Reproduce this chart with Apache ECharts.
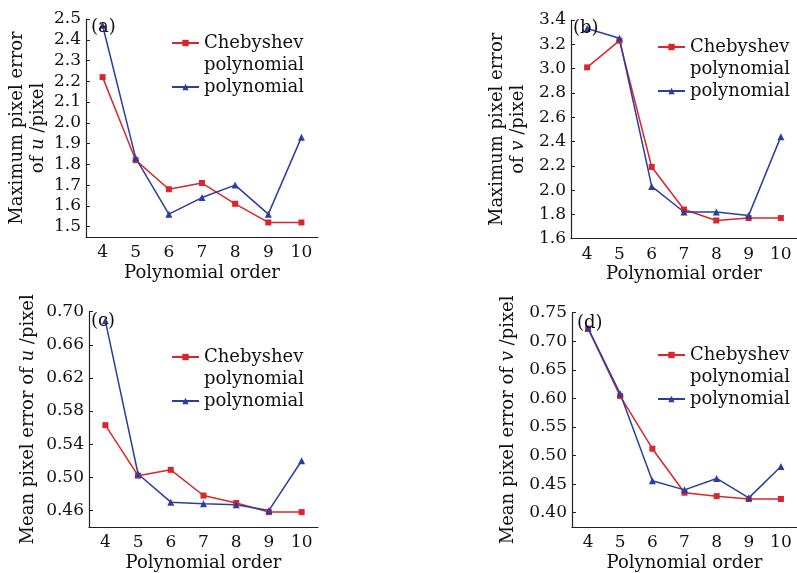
<!DOCTYPE html>
<html>
<head>
<meta charset="utf-8">
<script src="https://cdn.jsdelivr.net/npm/echarts@6/dist/echarts.min.js"></script>
<style>
  html, body { margin: 0; padding: 0; background: #fff; }
  #chart { width: 797px; height: 573px; }
</style>
</head>
<body>
<div id="chart"></div>
<script>
const orders = ['4', '5', '6', '7', '8', '9', '10']
const chebName = 'Chebyshev polynomial'
const polyName = 'polynomial'

// (a) max error u, (b) max error v, (c) mean error u, (d) mean error v
const maxUCheb = [2.22, 1.82, 1.68, 1.71, 1.61, 1.52, 1.52]
const maxUPoly = [2.47, 1.83, 1.56, 1.64, 1.70, 1.56, 1.93]
const maxVCheb = [3.01, 3.23, 2.19, 1.84, 1.75, 1.77, 1.77]
const maxVPoly = [3.33, 3.25, 2.03, 1.82, 1.82, 1.79, 2.44]
const meanUCheb = [0.563, 0.502, 0.509, 0.478, 0.469, 0.458, 0.458]
const meanUPoly = [0.689, 0.504, 0.470, 0.468, 0.467, 0.460, 0.520]
const meanVCheb = [0.722, 0.604, 0.512, 0.435, 0.429, 0.424, 0.424]
const meanVPoly = [0.723, 0.608, 0.456, 0.440, 0.460, 0.426, 0.481]

const ticksA = [1.5, 1.6, 1.7, 1.8, 1.9, 2.0, 2.1, 2.2, 2.3, 2.4, 2.5]
const ticksB = [1.6, 1.8, 2.0, 2.2, 2.4, 2.6, 2.8, 3.0, 3.2, 3.4]
const ticksC = [0.46, 0.50, 0.54, 0.58, 0.62, 0.66, 0.70]
const ticksD = [0.40, 0.45, 0.50, 0.55, 0.60, 0.65, 0.70, 0.75]

const font = 'DejaVu Serif'
const red = '#d9262c'
const blue = '#2b3d9e'
const axisColor = '#222'

const panels = [
  { tag: '(a)', grid: { left: 86, top: 19, width: 232, height: 218 }, min: 1.45, max: 2.5, ticks: ticksA, dec: 1,
    name: '{t|Maximum pixel error}\n{t|of }{i|u}{t| /pixel}', gap: 37, cheb: maxUCheb, poly: maxUPoly,
    tagPos: [91, 18], legend: [171, 10] },
  { tag: '(b)', grid: { left: 571, top: 20, width: 228, height: 218.7 }, min: 1.6, max: 3.4, ticks: ticksB, dec: 1,
    name: '{t|Maximum pixel error}\n{t|of }{i|v}{t| /pixel}', gap: 42, cheb: maxVCheb, poly: maxVPoly,
    tagPos: [573, 19], legend: [657, 14] },
  { tag: '(c)', grid: { left: 89, top: 311.7, width: 229, height: 218.3 }, min: 0.44, max: 0.70, ticks: ticksC, dec: 2,
    name: '{t|Mean pixel error of }{i|u}{t| /pixel}', gap: 50, cheb: meanUCheb, poly: meanUPoly,
    tagPos: [91, 312], legend: [171, 324] },
  { tag: '(d)', grid: { left: 572, top: 312.7, width: 228, height: 217.3 }, min: 0.375, max: 0.75, ticks: ticksD, dec: 2,
    name: '{t|Mean pixel error of }{i|v}{t| /pixel}', gap: 53, cheb: meanVCheb, poly: meanVPoly,
    tagPos: [577, 314], legend: [657, 322] }
]

const option = {
  animation: false,
  backgroundColor: '#fff',
  title: [],
  legend: [],
  grid: [],
  xAxis: [],
  yAxis: [],
  series: []
}

panels.forEach((p, i) => {
  option.grid.push(p.grid)
  option.title.push({
    text: p.tag,
    left: p.tagPos[0],
    top: p.tagPos[1],
    padding: 0,
    textStyle: { fontFamily: font, fontSize: 18, fontWeight: 'normal', color: '#111' }
  })
  // blank first line keeps the icon level with "Chebyshev"
  option.legend.push({
    orient: 'vertical',
    left: p.legend[0],
    top: p.legend[1],
    padding: 0,
    itemGap: 0,
    itemWidth: 27,
    itemHeight: 8,
    formatter: name => (name === chebName ? ' \nChebyshev\npolynomial' : name),
    textStyle: { fontFamily: font, fontSize: 18, lineHeight: 22, color: '#111' },
    data: [chebName, polyName]
  })
  option.xAxis.push({
    type: 'category',
    gridIndex: i,
    data: orders,
    boundaryGap: true,
    name: 'Polynomial order',
    nameLocation: 'middle',
    nameGap: 27,
    nameTextStyle: { fontFamily: font, fontSize: 18, color: '#111' },
    axisLine: { lineStyle: { color: axisColor, width: 1.2 } },
    axisTick: { alignWithLabel: true, inside: true, length: 4, lineStyle: { color: axisColor } },
    axisLabel: { fontFamily: font, fontSize: 17, color: '#111', margin: 7 }
  })
  option.yAxis.push({
    type: 'value',
    gridIndex: i,
    min: p.min,
    max: p.max,
    name: p.name,
    nameLocation: 'middle',
    nameGap: p.gap,
    nameTextStyle: {
      rich: {
        t: { fontFamily: font, fontSize: 18, lineHeight: 21, color: '#111' },
        i: { fontFamily: font, fontSize: 18, lineHeight: 21, fontStyle: 'italic', color: '#111' }
      }
    },
    splitLine: { show: false },
    axisLine: { show: true, lineStyle: { color: axisColor, width: 1.2 } },
    axisTick: { show: true, inside: true, length: 4, customValues: p.ticks, lineStyle: { color: axisColor } },
    axisLabel: {
      fontFamily: font, fontSize: 17, color: '#111', margin: 5,
      customValues: p.ticks,
      formatter: v => v.toFixed(p.dec)
    }
  })
  option.series.push({
    name: chebName,
    type: 'line',
    xAxisIndex: i,
    yAxisIndex: i,
    data: p.cheb,
    symbol: 'rect',
    symbolSize: 6,
    color: red,
    lineStyle: { width: 1.5, color: red },
    itemStyle: { color: red }
  })
  option.series.push({
    name: polyName,
    type: 'line',
    xAxisIndex: i,
    yAxisIndex: i,
    data: p.poly,
    symbol: 'triangle',
    symbolSize: 7,
    color: blue,
    lineStyle: { width: 1.5, color: blue },
    itemStyle: { color: blue }
  })
})

const chart = echarts.init(document.getElementById('chart'))
chart.setOption(option)
</script>
</body>
</html>
